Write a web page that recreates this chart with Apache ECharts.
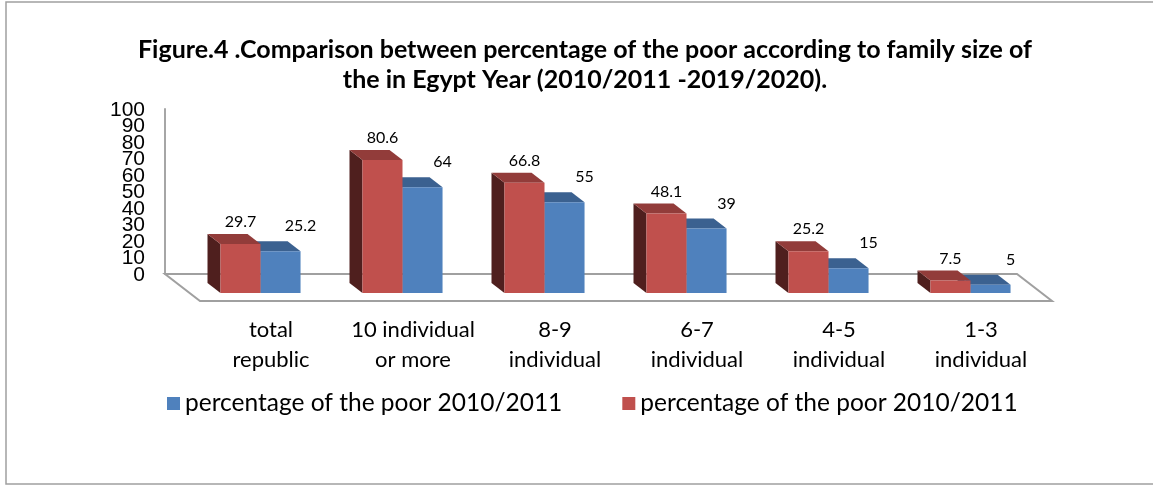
<!DOCTYPE html>
<html><head><meta charset="utf-8">
<script src="https://cdn.jsdelivr.net/npm/echarts@6/dist/echarts.min.js"></script>
<style>html,body{margin:0;padding:0;background:#fff}#c{width:1153px;height:486px}</style>
</head><body><div id="c"></div>
<script>
const categories = ['total\nrepublic', '10 individual\nor more', '8-9\nindividual', '6-7\nindividual', '4-5\nindividual', '1-3\nindividual'];
const seriesNames = ['percentage of the poor 2010/2011', 'percentage of the poor 2010/2011\u200B'];
const blueValues = [25.2, 64, 55, 39, 15, 5];
const redValues = [29.7, 80.6, 66.8, 48.1, 25.2, 7.5];
const yTickLabels = [0, 10, 20, 30, 40, 50, 60, 70, 80, 90, 100];
const yMin = 0, yMax = 100, yInterval = 10;

const FONT = 'Lato';
const DEPTH = [35, 27];
const FRONT = 0.7, BACK = 0.33;
const BAR_FR = 0.282;

function bar3d(front, topC, side, slot, labelDx, labelDy) {
  return function (params, api) {
    const ci = api.value(0), v = api.value(1);
    const base = api.coord([ci, 0]);
    const top = api.coord([ci, v]);
    const band = api.size([1, 0])[0];
    const w = band * BAR_FR;
    const fx = DEPTH[0] * FRONT, fy = DEPTH[1] * FRONT;
    const ddx = DEPTH[0] * (FRONT - BACK), ddy = DEPTH[1] * (FRONT - BACK);
    const x0 = base[0] + fx + (slot === 0 ? -w : 0);
    const x1 = x0 + w;
    const yb = base[1] + fy, yt = top[1] + fy;
    return {
      type: 'group',
      children: [
        { type: 'polygon', shape: { points: [[x0, yt], [x0, yb], [x0 - ddx, yb - ddy], [x0 - ddx, yt - ddy]] }, style: { fill: side } },
        { type: 'polygon', shape: { points: [[x0, yt], [x1, yt], [x1 - ddx, yt - ddy], [x0 - ddx, yt - ddy]] }, style: { fill: topC } },
        { type: 'rect', shape: { x: x0, y: yt, width: w, height: yb - yt }, style: { fill: front } },
        { type: 'text', style: { text: String(v), x: x0 + w / 2 + labelDx, y: yt - ddy - labelDy, align: 'center', verticalAlign: 'middle', fontSize: 16, fontFamily: FONT, fill: '#000' } }
      ]
    };
  };
}

const chart = echarts.init(document.getElementById('c'));
chart.setOption({
  animation: false,
  backgroundColor: '#fff',
  title: {
    text: 'Figure.4 .Comparison between percentage of the poor according to family size of\nthe in Egypt Year (2010/2011 -2019/2020).',
    left: 580, top: 30, textAlign: 'center',
    textStyle: { fontSize: 25, fontWeight: 'bold', fontFamily: FONT, lineHeight: 30, color: '#000' }
  },
  legend: {
    data: seriesNames, left: 162, top: 386, itemGap: 60, icon: 'rect', itemWidth: 13, itemHeight: 13,
    textStyle: { fontSize: 24.5, fontFamily: FONT, color: '#000' }
  },
  grid: { left: 165, right: 136, top: 109, bottom: 212 },
  xAxis: {
    type: 'category', data: categories,
    axisLine: { show: false }, axisTick: { show: false }, splitLine: { show: false },
    axisLabel: { interval: 0, fontSize: 22, lineHeight: 30, margin: 41, padding: [0, 0, 0, 70], color: '#000', fontFamily: FONT }
  },
  yAxis: {
    type: 'value', min: yMin, max: yMax, interval: yInterval,
    axisLine: { show: true, lineStyle: { color: '#a6a6a6', width: 2 } },
    axisTick: { show: false }, splitLine: { show: false },
    axisLabel: { show: false }
  },
  series: [
    {
      type: 'custom', name: 'floor', z: 1, silent: true, legendHoverLink: false,
      data: [[0, 0]],
      renderItem: function (params, api) {
        const p = api.coord([0, 0]);
        const band = api.size([1, 0])[0];
        const gl = p[0] - band / 2, gr = gl + band * categories.length, y = p[1];
        const children = [
          { type: 'polygon', shape: { points: [[gl, y], [gr, y], [gr + DEPTH[0], y + DEPTH[1]], [gl + DEPTH[0], y + DEPTH[1]]] }, style: { fill: '#fff', stroke: '#a0a0a0', lineWidth: 2 } }
        ];
        yTickLabels.forEach(function (t) {
          const c = api.coord([0, t]);
          children.push({ type: 'text', style: { text: String(t), x: gl - 20, y: c[1] + 1, align: 'right', verticalAlign: 'middle', fontSize: 21, fontFamily: 'Liberation Sans', fill: '#000' } });
        });
        return { type: 'group', children: children };
      }
    },
    {
      type: 'custom', name: seriesNames[0], z: 2, itemStyle: { color: '#4F81BD' },
      data: blueValues.map((v, i) => [i, v]), encode: { x: 0, y: 1 },
      renderItem: bar3d('#4F81BD', '#3B6190', '#2F4D72', 1, 20, 15)
    },
    {
      type: 'custom', name: seriesNames[1], z: 3, itemStyle: { color: '#C0504D' },
      data: redValues.map((v, i) => [i, v]), encode: { x: 0, y: 1 },
      renderItem: bar3d('#C0504D', '#923C3A', '#4F1F1E', 0, 0, 12)
    }
  ],
  graphic: [
    { type: 'rect', shape: { x: 6, y: 2, width: 1200, height: 482 }, style: { fill: 'none', stroke: '#a0a0a0', lineWidth: 1.5 }, z: 0, silent: true }
  ]
});
</script></body></html>
